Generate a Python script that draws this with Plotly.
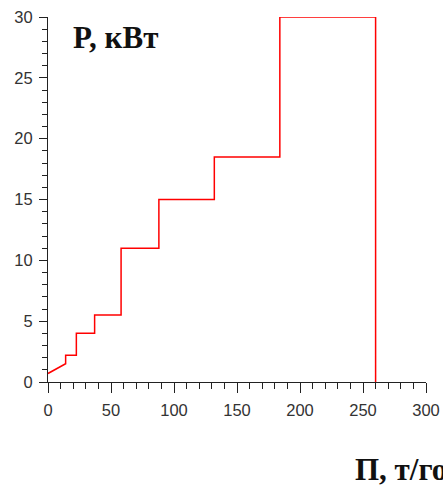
import plotly.graph_objects as go

# Data: capacity (t/year) vs power (kW), stepwise
x_vals = [0, 14, 14, 22.5, 22.5, 37, 37, 58, 58, 88, 88, 132, 132, 184, 184, 260, 260]
y_vals = [0.7, 1.5, 2.2, 2.2, 4, 4, 5.5, 5.5, 11, 11, 15, 15, 18.5, 18.5, 30, 30, 0]

x_ticks = [0, 50, 100, 150, 200, 250, 300]
y_ticks = [0, 5, 10, 15, 20, 25, 30]

fig = go.Figure()
fig.add_trace(go.Scatter(x=x_vals, y=y_vals, mode="lines",
                         line=dict(color="#ff0000", width=1.5), showlegend=False,
                         cliponaxis=False))

axis_common = dict(showgrid=False, zeroline=False, showline=True, linecolor="#222",
                   linewidth=1, ticks="outside", tickcolor="#222", tickwidth=1,
                   automargin=False, ticklabeloverflow="allow",
                   tickfont=dict(family="Liberation Sans, Arial", size=16.5, color="#333"))

fig.update_xaxes(range=[0, 300], tickvals=x_ticks, ticklen=10, ticklabelstandoff=3,
                 minor=dict(ticks="outside", dtick=10, ticklen=6, tickcolor="#222", showgrid=False),
                 **axis_common)
fig.update_yaxes(range=[0, 30], tickvals=y_ticks, ticklen=8, ticklabelstandoff=3,
                 minor=dict(ticks="outside", dtick=1, ticklen=5, tickcolor="#222", showgrid=False),
                 **axis_common)

fig.add_annotation(text="<b>P, кВт</b>", xref="paper", yref="paper", x=0.062, y=0.943,
                   xanchor="left", yanchor="middle", showarrow=False,
                   font=dict(family="Liberation Serif, Times New Roman", size=31, color="#111"))
fig.add_annotation(text="<b>П, т/год</b>", xref="paper", yref="paper", x=0.807, y=-0.24,
                   xanchor="left", yanchor="middle", showarrow=False,
                   font=dict(family="Liberation Serif, Times New Roman", size=31, color="#111"))

fig.update_layout(width=443, height=486, plot_bgcolor="white", paper_bgcolor="white",
                  margin=dict(l=48, r=17, t=17, b=103.5))

fig.write_html("out.html", config={"displayModeBar": False},
               post_script="document.body.style.margin='0';document.documentElement.style.overflow='hidden';")
